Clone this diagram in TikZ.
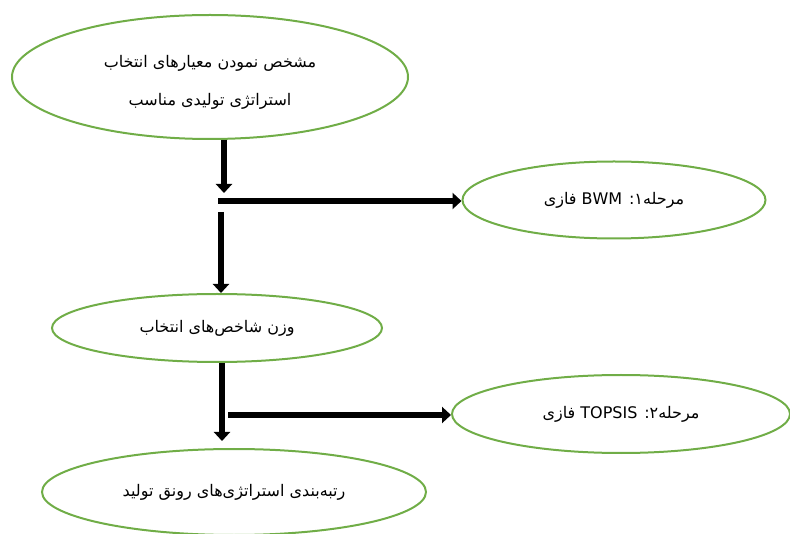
\documentclass[tikz,border=0pt]{standalone}
\usepackage{fontspec}
\newfontfamily\arabicfont[Script=Arabic]{DejaVu Sans}
\TeXXeTstate=1
\usetikzlibrary{shapes.geometric,arrows.meta}
\definecolor{stepgreen}{RGB}{112,173,71}
\tikzset{
  stage/.style={ellipse,draw=stepgreen,line width=2pt,inner sep=0pt,
    font=\arabicfont\fontsize{16}{38}\selectfont,align=center},
  flow/.style={line width=6.5pt,-{Triangle[width=16pt,length=9pt]}}
}
\begin{document}
\begin{tikzpicture}[x=1pt,y=-1pt]
  \useasboundingbox (0,0) rectangle (790,534);
  \draw
    (210,77) node[stage,minimum width=396pt,minimum height=124pt,text height=60pt] (crit)
      {\beginR مشخص نمودن معیارهای  انتخاب\endR\\\beginR استراتژی تولیدی مناسب\endR}
    (614,200) node[stage,minimum width=303pt,minimum height=77pt] (bwm)
      {\beginR مرحله۱: \beginL BWM\endL{} فازی\endR}
    (217,328) node[stage,minimum width=330pt,minimum height=68pt] (weight)
      {\beginR وزن شاخص‌های انتخاب\endR}
    (621,414) node[stage,minimum width=338pt,minimum height=78pt] (topsis)
      {\beginR مرحله۲: \beginL TOPSIS\endL{} فازی\endR}
    (234,492) node[stage,minimum width=384pt,minimum height=86pt] (rank)
      {\beginR رتبه‌بندی استراتژی‌های رونق تولید\endR};
  \coordinate (j1) at (224,193);
  \coordinate (h1) at (218,201);
  \coordinate (v1) at (221,212);
  \coordinate (j2) at (222,441);
  \coordinate (h2) at (228,415);
  \begin{scope}[flow]
    \draw (crit.south -| j1) to (j1);
    \draw (h1) to (h1 -| bwm.west);
    \draw (v1) to (v1 |- weight.north);
    \draw (weight.south -| j2) to (j2);
    \draw (h2) to (h2 -| topsis.west);
  \end{scope}
\end{tikzpicture}
\end{document}
